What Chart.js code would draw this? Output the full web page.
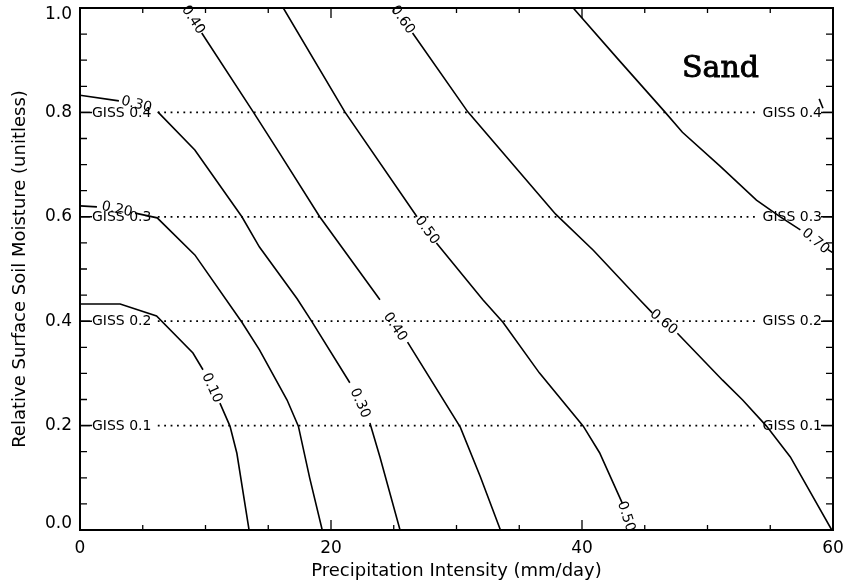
<!DOCTYPE html>
<html lang="en">
<head>
<meta charset="UTF-8">
<title>Sand - Soil Moisture vs Precipitation Intensity</title>
<script src="https://cdn.jsdelivr.net/npm/chart.js"></script>
<style>
    html, body { margin: 0; padding: 0; background: #fff; }
    #wrap { width: 849px; height: 588px; }
</style>
</head>
<body>
<div id="wrap"><canvas id="chart" width="849" height="588"></canvas></div>
<script>
// axis ticks
const xTicks = [0, 20, 40, 60];
const xTickLabels = ['0', '20', '40', '60'];
const yTicks = [0, 0.2, 0.4, 0.6, 0.8, 1.0];
const yTickLabels = ['0.0', '0.2', '0.4', '0.6', '0.8', '1.0'];

// contour lines, each split into segments where the label sits  [precip, moisture]
const level010 = [
    [[0, 0.433], [3.2, 0.433], [6.1, 0.41], [9.0, 0.339], [9.8, 0.307]],
    [[11.15, 0.243], [11.95, 0.199], [12.5, 0.147], [13.47, 0]]
];
const level020 = [
    [[0, 0.621], [1.35, 0.619]],
    [[4.4, 0.607], [6.15, 0.598], [9.15, 0.527], [12.9, 0.398], [14.3, 0.345], [16.5, 0.249], [17.4, 0.199], [18.3, 0.1], [19.3, 0]]
];
const level030 = [
    [[0, 0.833], [3.1, 0.822]],
    [[6.2, 0.801], [9.15, 0.728], [12.9, 0.6], [14.3, 0.542], [17.3, 0.443], [18.4, 0.402], [21.5, 0.282]],
    [[23.1, 0.205], [23.9, 0.14], [25.5, 0]]
];
const level040 = [
    [[9.7, 0.952], [13.8, 0.801], [15.9, 0.722], [19.1, 0.6], [23.9, 0.441]],
    [[26.1, 0.36], [30.3, 0.197], [31.9, 0.102], [33.5, 0]]
];
const level050 = [
    [[16.2, 1.0], [21.1, 0.801], [26.85, 0.6]],
    [[28.4, 0.55], [32.1, 0.441], [33.7, 0.398], [36.6, 0.301], [40.1, 0.199], [41.4, 0.148], [43.2, 0.052]]
];
const level060 = [
    [[26.5, 0.952], [30.9, 0.801], [37.9, 0.605], [40.9, 0.536], [44.6, 0.441], [45.6, 0.416]],
    [[47.6, 0.377], [51.2, 0.287], [52.8, 0.249], [54.7, 0.199], [56.6, 0.14], [59.9, 0]]
];
const level070 = [
    [[39.3, 1.0], [42.8, 0.904], [46.6, 0.801], [48.0, 0.762], [51.0, 0.697], [53.9, 0.632], [55.8, 0.6], [57.4, 0.575]],
    [[59.6, 0.537], [60, 0.531]]
];
const level080 = [
    [[58.9, 0.826], [59.2, 0.808]]
];

// contour label text and where it sits on its line (angle in degrees)
const contourLabels = [
    { text: '0.40', x: 9.0, y: 0.977, angle: 57 },
    { text: '0.60', x: 25.7, y: 0.977, angle: 55 },
    { text: '0.30', x: 4.5, y: 0.815, angle: 14 },
    { text: '0.20', x: 2.95, y: 0.614, angle: 12 },
    { text: '0.10', x: 10.5, y: 0.272, angle: 66 },
    { text: '0.30', x: 22.3, y: 0.243, angle: 66 },
    { text: '0.40', x: 25.1, y: 0.389, angle: 56 },
    { text: '0.50', x: 27.65, y: 0.574, angle: 53 },
    { text: '0.60', x: 46.5, y: 0.398, angle: 40 },
    { text: '0.50', x: 43.5, y: 0.026, angle: 72 },
    { text: '0.70', x: 58.6, y: 0.553, angle: 40 }
];

// GISS reference levels
const gissY = [0.2, 0.4, 0.6, 0.8];
const gissLabels = ['GISS 0.1', 'GISS 0.2', 'GISS 0.3', 'GISS 0.4'];
const gissFrom = 6.2;
const gissTo = 53.9;

const contourSets = [level010, level020, level030, level040, level050, level060, level070, level080];

const datasets = [];
contourSets.forEach(level => {
    level.forEach(seg => {
        datasets.push({
            data: seg.map(p => ({ x: p[0], y: p[1] })),
            showLine: true,
            borderColor: '#000',
            borderWidth: 1.6,
            pointRadius: 0,
            tension: 0
        });
    });
});
gissY.forEach(y => {
    datasets.push({
        data: [{ x: gissFrom, y: y }, { x: gissTo, y: y }],
        showLine: true,
        borderColor: '#000',
        borderWidth: 1.8,
        borderDash: [1.8, 4.6],
        pointRadius: 0
    });
});

const annotate = {
    id: 'annotate',
    afterDraw(chart) {
        const ctx = chart.ctx;
        const xs = chart.scales.x, ys = chart.scales.y;
        const area = chart.chartArea;
        ctx.save();
        ctx.strokeStyle = '#000';
        ctx.fillStyle = '#000';

        // frame
        ctx.lineWidth = 2;
        ctx.strokeRect(area.left, area.top, area.right - area.left, area.bottom - area.top);

        // inward tick marks, minor every 5 mm/day and 0.05
        ctx.lineWidth = 1.3;
        ctx.beginPath();
        for (let v = 0; v <= 60; v += 5) {
            const px = xs.getPixelForValue(v);
            const len = xTicks.includes(v) ? 10 : 5;
            ctx.moveTo(px, area.bottom); ctx.lineTo(px, area.bottom - len);
            ctx.moveTo(px, area.top); ctx.lineTo(px, area.top + len);
        }
        for (let i = 0; i <= 20; i++) {
            const v = i * 0.05;
            const py = ys.getPixelForValue(v);
            const len = i % 4 === 0 ? 10 : 7;
            ctx.moveTo(area.left, py); ctx.lineTo(area.left + len, py);
            ctx.moveTo(area.right, py); ctx.lineTo(area.right - len, py);
        }
        ctx.stroke();

        // GISS labels with leader lines on both sides
        ctx.font = '14px "DejaVu Sans"';
        ctx.textBaseline = 'middle';
        ctx.lineWidth = 1.5;
        gissY.forEach((y, i) => {
            const py = ys.getPixelForValue(y);
            ctx.beginPath();
            ctx.moveTo(area.left, py); ctx.lineTo(area.left + 12, py);
            ctx.moveTo(area.right - 12, py); ctx.lineTo(area.right, py);
            ctx.stroke();
            ctx.textAlign = 'left';
            ctx.fillText(gissLabels[i], area.left + 12, py + 0.5);
            ctx.textAlign = 'right';
            ctx.fillText(gissLabels[i], area.right - 11, py + 0.5);
        });

        // contour values
        ctx.font = '14px "DejaVu Sans"';
        ctx.textAlign = 'center';
        contourLabels.forEach(l => {
            ctx.save();
            ctx.translate(xs.getPixelForValue(l.x), ys.getPixelForValue(l.y));
            ctx.rotate(l.angle * Math.PI / 180);
            ctx.fillText(l.text, 0, 0);
            ctx.restore();
        });

        // soil type
        ctx.font = '30px "DejaVu Serif"';
        ctx.textAlign = 'left';
        ctx.textBaseline = 'alphabetic';
        ctx.lineWidth = 0.9;
        ctx.fillText('Sand', 682, 77);
        ctx.strokeText('Sand', 682, 77);
        ctx.restore();
    }
};

new Chart(document.getElementById('chart'), {
    type: 'scatter',
    data: { datasets: datasets },
    options: {
        responsive: false,
        animation: false,
        devicePixelRatio: 1,
        layout: { padding: { top: 8, right: 16, left: 0, bottom: 0 } },
        plugins: { legend: { display: false }, tooltip: { enabled: false } },
        scales: {
            x: {
                type: 'linear',
                min: 0,
                max: 60,
                afterBuildTicks: s => { s.ticks = xTicks.map(v => ({ value: v })); },
                afterFit: s => { s.height = 58; s.paddingLeft = 0; s.paddingRight = 0; },
                grid: { display: false, drawTicks: false },
                border: { display: false },
                ticks: {
                    padding: 8,
                    color: '#000',
                    maxRotation: 0,
                    font: { family: 'DejaVu Sans', size: 17 },
                    callback: v => xTickLabels[xTicks.indexOf(v)]
                },
                title: {
                    display: true,
                    text: 'Precipitation Intensity (mm/day)',
                    color: '#000',
                    font: { family: 'DejaVu Sans', size: 18 },
                    padding: { top: 0, bottom: 6 }
                }
            },
            y: {
                type: 'linear',
                min: 0,
                max: 1,
                afterBuildTicks: s => { s.ticks = yTicks.map(v => ({ value: v })); },
                afterFit: s => { s.width = 80; s.paddingTop = 0; s.paddingBottom = 0; },
                grid: { display: false, drawTicks: false },
                border: { display: false },
                ticks: {
                    padding: 8,
                    color: '#000',
                    font: { family: 'DejaVu Sans', size: 17, lineHeight: 0.8 },
                    callback: v => {
                        const label = yTickLabels[yTicks.indexOf(v)];
                        // keep the end labels inside the frame
                        if (v === 1) return ['', label];
                        if (v === 0) return [label, ''];
                        return label;
                    }
                },
                title: {
                    display: true,
                    text: 'Relative Surface Soil Moisture (unitless)',
                    color: '#000',
                    font: { family: 'DejaVu Sans', size: 18 },
                    padding: { top: 10, bottom: 0 }
                }
            }
        }
    },
    plugins: [annotate]
});
</script>
</body>
</html>
